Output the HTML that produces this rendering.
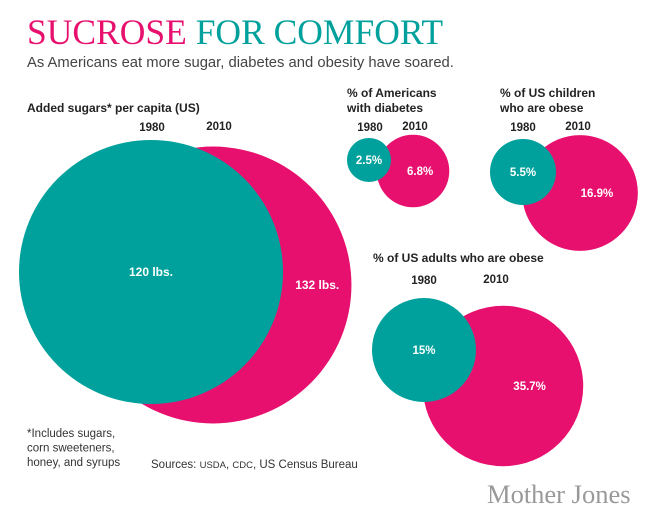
<!DOCTYPE html>
<html><head><meta charset="utf-8"><style>
body{margin:0;background:#fff;width:650px;height:520px;overflow:hidden;font-family:"Liberation Sans",sans-serif}
</style></head><body>
<svg width="650" height="520" id="svg" style="font-family:'Liberation Sans',sans-serif">
<text x="27" y="44" font-family="Liberation Serif" font-size="35.5" fill="#e8106e">SUCROSE <tspan fill="#00a19c">FOR COMFORT</tspan></text>
<text x="27" y="67" font-size="14.8" fill="#444">As Americans eat more sugar, diabetes and obesity have soared.</text>
<text x="27" y="112" font-size="12" font-weight="bold" fill="#222">Added sugars* per capita (US)</text>
<text x="347" y="97" font-size="12" font-weight="bold" fill="#222"><tspan x="347">% of Americans</tspan><tspan x="347" dy="15">with diabetes</tspan></text>
<text x="500" y="97" font-size="12" font-weight="bold" fill="#222"><tspan x="500">% of US children</tspan><tspan x="500" dy="15">who are obese</tspan></text>
<text x="373" y="262" font-size="12" font-weight="bold" fill="#222">% of US adults who are obese</text>
<g id="marks"></g>
<text x="27" y="437" font-size="11.5" fill="#333"><tspan x="27">*Includes sugars,</tspan><tspan x="27" dy="14.5">corn sweeteners,</tspan><tspan x="27" dy="14.5">honey, and syrups</tspan></text>
<text x="151" y="468" font-size="11.5" fill="#333">Sources: <tspan font-size="9.5">USDA</tspan>, <tspan font-size="9.5">CDC</tspan>, US Census Bureau</text>
<text x="487" y="503" font-family="Liberation Serif" font-size="26.5" fill="#999">Mother Jones</text>
</svg>
<script>
const panels=["sugar","diabetes","children","adults"];
const years=["1980","2010"];
const v1980=[120,2.5,5.5,15];
const v2010=[132,6.8,16.9,35.7];
const labels1980=["120 lbs.","2.5%","5.5%","15%"];
const labels2010=["132 lbs.","6.8%","16.9%","35.7%"];
const layout=[
 {cx:151,cy:272,k:132/Math.sqrt(120),dx:62,dy:13,ly:131,lx1:152,lx2:219},
 {cx:369,cy:160,k:22/Math.sqrt(2.5),dx:44,dy:11,ly:131,lx1:370,lx2:415},
 {cx:523,cy:172,k:33/Math.sqrt(5.5),dx:57,dy:21,ly:131,lx1:523,lx2:578},
 {cx:424,cy:350,k:52/Math.sqrt(15),dx:79,dy:36,ly:284,lx1:424,lx2:496}
];
const NS="http://www.w3.org/2000/svg";
const g=document.getElementById('marks');
function mk(t,a){const e=document.createElementNS(NS,t);for(const k in a)e.setAttribute(k,a[k]);g.appendChild(e);return e;}
panels.forEach((p,i)=>{
 const L=layout[i];
 const r1=L.k*Math.sqrt(v1980[i]), r2=L.k*Math.sqrt(v2010[i]);
 const c2x=L.cx+L.dx, c2y=L.cy+L.dy;
 const c2=mk('circle',{cx:c2x,cy:c2y,r:r2,fill:'#e8106e'});
 
 
 const c1=mk('circle',{cx:L.cx,cy:L.cy,r:r1,fill:'#00a19c'});
 
 
 const fs=i==0?12:11.5;
 const t1=mk('text',{x:L.cx,y:L.cy+4,'text-anchor':'middle','font-size':fs,'font-weight':'bold',fill:'#fff'});
 t1.textContent=labels1980[i];
 
 
 const tx2=(L.cx+r1+c2x+r2)/2;
 const t2=mk('text',{x:tx2,y:c2y+4,'text-anchor':'middle','font-size':fs,'font-weight':'bold',fill:'#fff'});
 t2.textContent=labels2010[i];
 
 
 const y1=mk('text',{x:L.lx1,y:L.ly,'text-anchor':'middle','font-size':11.5,'font-weight':'bold',fill:'#222'});
 y1.textContent=years[0];
 
 
 const y2=mk('text',{x:L.lx2,y:L.ly-1,'text-anchor':'middle','font-size':11.5,'font-weight':'bold',fill:'#222'});
 y2.textContent=years[1];
 
 
});
</script>
</body></html>
